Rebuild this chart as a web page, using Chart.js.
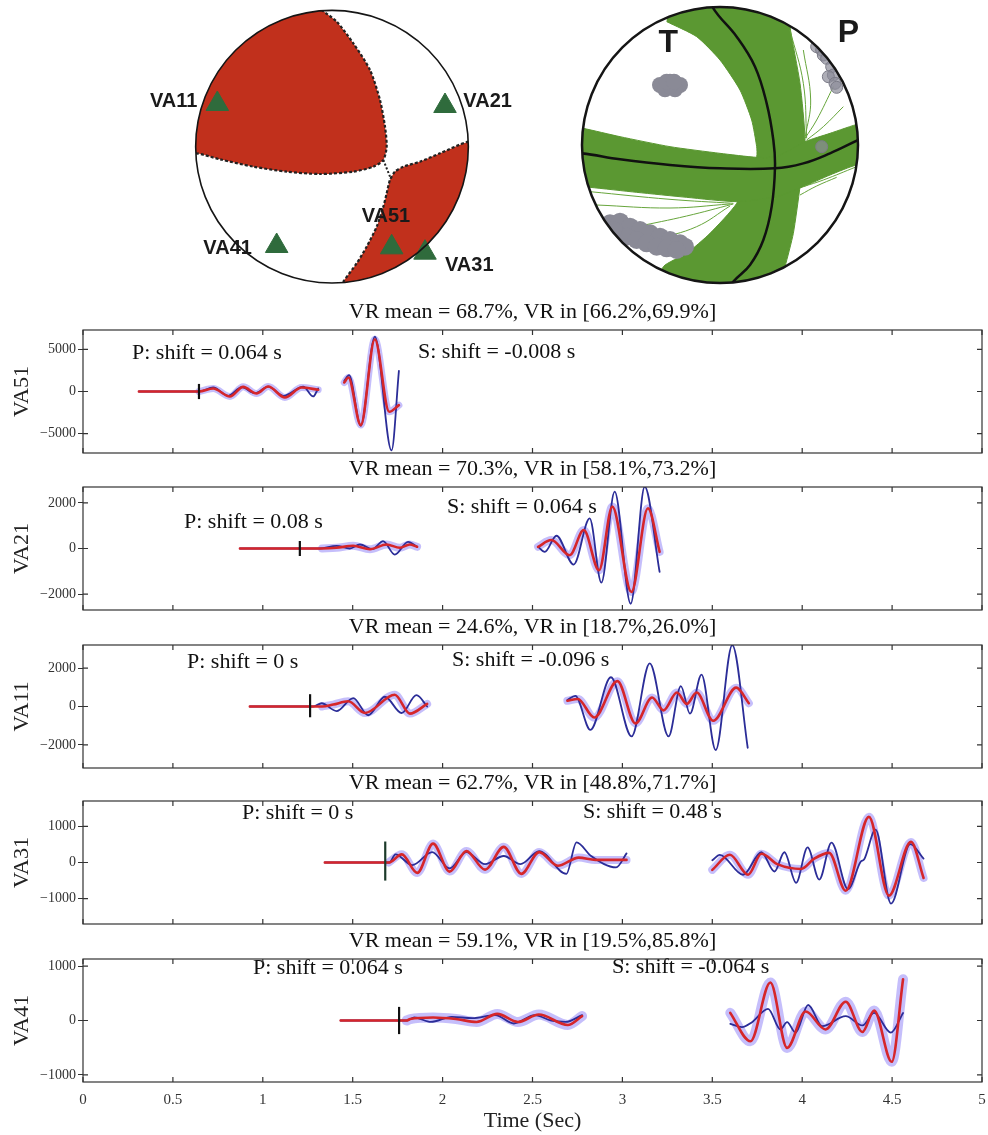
<!DOCTYPE html>
<html lang="en">
<head>
<meta charset="UTF-8">
<title>Focal mechanism and waveform fits</title>
<script src="https://cdn.jsdelivr.net/npm/chart.js"></script>
<style>
    body { margin: 0; background: #fff; }
    #page { position: relative; width: 988px; height: 1135px; overflow: hidden; background: #fff; }
    canvas { position: absolute; }
</style>
</head>
<body>
<div id="page">
    <canvas id="ballLeft" width="400" height="290" style="left:120px;top:0;width:400px;height:290px"></canvas>
    <canvas id="ballRight" width="300" height="290" style="left:570px;top:0;width:300px;height:290px"></canvas>
</div>
<script>
const SERIF = '"Liberation Serif", "Times New Roman", serif';
const SANS = '"Liberation Sans", Arial, sans-serif';

// ---------- waveform panels ----------
const stations = ['VA51', 'VA21', 'VA11', 'VA31', 'VA41'];
const vrTitles = [
    'VR mean = 68.7%, VR in [66.2%,69.9%]',
    'VR mean = 70.3%, VR in [58.1%,73.2%]',
    'VR mean = 24.6%, VR in [18.7%,26.0%]',
    'VR mean = 62.7%, VR in [48.8%,71.7%]',
    'VR mean = 59.1%, VR in [19.5%,85.8%]'
];
const pShiftText = ['P: shift = 0.064 s', 'P: shift = 0.08 s', 'P: shift = 0 s', 'P: shift = 0 s', 'P: shift = 0.064 s'];
const sShiftText = ['S: shift = -0.008 s', 'S: shift = 0.064 s', 'S: shift = -0.096 s', 'S: shift = 0.48 s', 'S: shift = -0.064 s'];
const yRange = [7300, 2700, 3200, 1700, 1130];
const yTicks = [[-5000, 0, 5000], [-2000, 0, 2000], [-2000, 0, 2000], [-1000, 0, 1000], [-1000, 0, 1000]];
const xTicks = [0, 0.5, 1, 1.5, 2, 2.5, 3, 3.5, 4, 4.5, 5];

// P pick marker: time and vertical extent
const markerTime = [0.645, 1.206, 1.263, 1.681, 1.758];
const markerLow = [-900, -330, -560, -500, -250];
const markerHigh = [900, 330, 640, 580, 250];

// [time (s), amplitude] read at the turning points of each trace
const va51PObs = [[0.311, 0], [0.645, 0], [0.724, 475], [0.808, -510], [0.882, 510], [0.956, -200], [1.03, 590], [1.114, -510], [1.225, 590], [1.28, -590], [1.308, 355]];
const va51PSyn = [[0.311, 0], [0.645, 0], [0.724, 355], [0.817, -590], [0.891, 550], [0.965, -240], [1.03, 590], [1.123, -710], [1.216, 475], [1.308, 200]];
const va51SObs = [[1.453, 1265], [1.48, 1935], [1.545, -4070], [1.623, 6520], [1.716, -7000], [1.757, 2450]];
const va51SSyn = [[1.453, 1070], [1.476, 1660], [1.545, -3990], [1.623, 6200], [1.703, -2410], [1.757, -1620]];

const va21PObs = [[0.873, 0], [1.317, 0], [1.41, 118], [1.484, 0], [1.54, 176], [1.61, -30], [1.669, 320], [1.734, -265], [1.808, 295], [1.858, 75]];
const va21PSyn = [[0.873, 0], [1.33, 0], [1.41, 30], [1.503, 118], [1.596, -30], [1.688, 176], [1.762, 30], [1.817, 176], [1.858, 75]];
const va21SObs = [[2.531, 75], [2.568, -147], [2.633, 560], [2.729, -705], [2.818, 1320], [2.883, -1500], [2.957, 2500], [3.046, -2425], [3.124, 2720], [3.207, -1030]];
const va21SSyn = [[2.531, 75], [2.605, 370], [2.707, -295], [2.785, 810], [2.87, -955], [2.944, 1840], [3.05, -1910], [3.142, 1765], [3.207, -147]];

const va11PObs = [[0.928, 0], [1.28, 0], [1.327, 170], [1.41, -237], [1.503, 440], [1.586, -455], [1.679, 507], [1.772, -338], [1.855, 590], [1.914, 0]];
const va11PSyn = [[0.928, 0], [1.33, 0], [1.392, 100], [1.475, 270], [1.568, -338], [1.734, 610], [1.818, -370], [1.914, 135]];
const va11SObs = [[2.694, 338], [2.738, 558], [2.822, -1217], [2.936, 1521], [3.051, -1555], [3.152, 2248], [3.257, -1555], [3.325, 1065], [3.376, -372], [3.44, 1656], [3.519, -2265], [3.611, 3200], [3.697, -2146]];
const va11SSyn = [[2.694, 300], [2.752, 390], [2.844, -575], [2.972, 1320], [3.073, -880], [3.165, 470], [3.229, -200], [3.303, 725], [3.358, 135], [3.413, 725], [3.505, -745], [3.633, 980], [3.703, 170]];

const va31PObs = [[1.345, 0], [1.704, 0], [1.738, 225], [1.831, -72], [1.942, 288], [2.039, -162], [2.132, 288], [2.236, -45], [2.34, 180], [2.433, -45], [2.537, 315], [2.688, -315], [2.745, 558], [2.826, 180], [2.965, -135], [3.023, 252]];
const va31PSyn = [[1.345, 0], [1.70, 0], [1.773, 225], [1.859, -288], [1.947, 522], [2.039, -252], [2.132, 315], [2.236, -198], [2.34, 432], [2.438, -315], [2.537, 288], [2.641, -90], [2.757, 135], [2.85, 72], [3.023, 72]];
const va31SObs = [[3.5, 62], [3.542, 213], [3.671, -338], [3.773, 284], [3.846, -249], [3.901, 284], [3.966, -560], [4.03, 418], [4.095, -471], [4.163, 551], [4.255, -738], [4.325, 18], [4.345, 90], [4.408, 907], [4.494, -1138], [4.601, 507], [4.675, 107]];
const va31SSyn = [[3.5, -204], [3.598, 213], [3.699, -338], [3.773, 240], [3.865, -53], [3.994, -178], [4.067, 107], [4.15, 267], [4.242, -782], [4.371, 1262], [4.482, -916], [4.605, 569], [4.675, -427]];

const va41PObs = [[1.433, 0], [1.80, 0], [1.843, 55], [1.935, -27], [2.051, 66], [2.166, 44], [2.293, 99], [2.396, -55], [2.512, 99], [2.604, 0], [2.684, -27], [2.776, 99]];
const va41PSyn = [[1.433, 0], [1.80, 0], [1.82, 27], [1.947, 55], [2.074, 27], [2.189, -27], [2.304, 121], [2.419, -27], [2.535, 110], [2.696, -82], [2.776, 82]];
const va41SObs = [[3.6, -61], [3.665, -121], [3.721, -30], [3.81, 212], [3.879, -164], [3.916, -30], [3.963, -224], [4.033, 285], [4.112, -103], [4.242, 79], [4.335, -91], [4.4, 139], [4.493, -224], [4.561, 139]];
const va41SSyn = [[3.6, 140], [3.712, -382], [3.823, 697], [3.916, -503], [4.019, 164], [4.13, -164], [4.242, 345], [4.335, -212], [4.4, 182], [4.498, -758], [4.561, 758]];

const obsP = [va51PObs, va21PObs, va11PObs, va31PObs, va41PObs];
const synP = [va51PSyn, va21PSyn, va11PSyn, va31PSyn, va41PSyn];
const obsS = [va51SObs, va21SObs, va11SObs, va31SObs, va41SObs];
const synS = [va51SSyn, va21SSyn, va11SSyn, va31SSyn, va41SSyn];

// layout of the panels (pixels)
const panelTop = [330, 487, 645, 801, 959];
const PLOT_H = 123, HEAD_H = 28, AXIS_W = 83, FOOT_H = 52;
const textPosP = [[49, 23], [101, 35], [104, 17], [159, 12], [170, 9]];
const textPosS = [[335, 22], [364, 20], [369, 15], [500, 11], [529, 8]];
const bandWidth = [7, 8, 8, 8, 10];
const markerColor = ['#111', '#111', '#111', '#1c3a2a', '#111'];

const OBS = '#2b2d98';
const SYN = '#d6262a';
const BAND = 'rgba(150, 136, 248, 0.55)';

function xy(arr) {
    return arr.map(p => ({ x: p[0], y: p[1] }));
}

function trace(arr, color, width) {
    return {
        data: xy(arr),
        borderColor: color,
        borderWidth: width,
        pointRadius: 0,
        cubicInterpolationMode: 'monotone',
        fill: false,
        borderCapStyle: 'round',
        borderJoinStyle: 'round'
    };
}

function panelDecor(i) {
    return {
        id: 'panelDecor',
        beforeDatasetsDraw(chart) {
            const { ctx, chartArea: a } = chart;
            ctx.save();
            ctx.fillStyle = '#111';
            ctx.font = '22px ' + SERIF;
            ctx.textBaseline = 'middle';
            ctx.textAlign = 'center';
            ctx.fillText(vrTitles[i], (a.left + a.right) / 2, a.top - 18);
            ctx.textAlign = 'left';
            ctx.fillText(pShiftText[i], a.left + textPosP[i][0], a.top + textPosP[i][1]);
            ctx.fillText(sShiftText[i], a.left + textPosS[i][0], a.top + textPosS[i][1]);
            ctx.restore();
        },
        afterDraw(chart) {
            const { ctx, chartArea: a, scales: { x, y } } = chart;
            ctx.save();
            ctx.strokeStyle = '#333';
            ctx.lineWidth = 1.2;
            ctx.strokeRect(a.left, a.top, a.right - a.left, a.bottom - a.top);
            ctx.beginPath();
            xTicks.forEach(v => {
                const px = x.getPixelForValue(v);
                ctx.moveTo(px, a.top); ctx.lineTo(px, a.top + 5);
                ctx.moveTo(px, a.bottom); ctx.lineTo(px, a.bottom - 5);
            });
            yTicks[i].forEach(v => {
                const py = y.getPixelForValue(v);
                ctx.moveTo(a.left, py); ctx.lineTo(a.left + 5, py);
                ctx.moveTo(a.right, py); ctx.lineTo(a.right - 5, py);
            });
            ctx.stroke();
            ctx.restore();
        }
    };
}

const page = document.getElementById('page');

stations.forEach((name, i) => {
    const last = i === stations.length - 1;
    const h = HEAD_H + PLOT_H + (last ? FOOT_H : 4);
    const c = document.createElement('canvas');
    c.width = 988; c.height = h;
    c.style.left = '0px';
    c.style.top = (panelTop[i] - HEAD_H) + 'px';
    c.style.width = '988px';
    c.style.height = h + 'px';
    page.appendChild(c);

    const marker = {
        data: [{ x: markerTime[i], y: markerLow[i] }, { x: markerTime[i], y: markerHigh[i] }],
        borderColor: markerColor[i], borderWidth: 2.2, pointRadius: 0, tension: 0, fill: false
    };
    const bandP = trace(synP[i].slice(1), BAND, bandWidth[i]);
    const bandS = trace(synS[i], BAND, bandWidth[i]);

    new Chart(c, {
        type: 'line',
        data: {
            datasets: [
                marker,
                trace(synP[i], SYN, 2.6),
                trace(synS[i], SYN, 2.6),
                trace(obsP[i], OBS, 1.8),
                trace(obsS[i], OBS, 1.8),
                bandP,
                bandS
            ]
        },
        options: {
            responsive: false,
            animation: false,
            events: [],
            layout: { autoPadding: false, padding: { top: HEAD_H, right: 6, bottom: last ? 0 : 4, left: 0 } },
            plugins: { legend: { display: false }, tooltip: { enabled: false } },
            scales: {
                x: {
                    type: 'linear', min: 0, max: 5,
                    display: last,
                    afterBuildTicks: s => { s.ticks = xTicks.map(v => ({ value: v })); },
                    afterFit: s => {
                        s.height = last ? FOOT_H : 0;
                        s.paddingLeft = 0;
                        s.paddingRight = 0;
                    },
                    grid: { display: false, drawTicks: false },
                    border: { display: false },
                    ticks: {
                        font: { family: SERIF, size: 15 }, color: '#333', padding: 9,
                        maxRotation: 0, autoSkip: false,
                        callback: v => String(v)
                    },
                    title: {
                        display: true, text: 'Time (Sec)',
                        font: { family: SERIF, size: 22 }, color: '#222',
                        padding: { top: 0, bottom: 0 }
                    }
                },
                y: {
                    type: 'linear', min: -yRange[i], max: yRange[i],
                    afterBuildTicks: s => { s.ticks = yTicks[i].map(v => ({ value: v })); },
                    afterFit: s => {
                        s.width = AXIS_W;
                        s.paddingTop = 0;
                        s.paddingBottom = 0;
                    },
                    grid: { drawOnChartArea: false, tickLength: 5, color: '#333' },
                    border: { display: false },
                    ticks: {
                        font: { family: SERIF, size: 14 }, color: '#333', padding: 2,
                        callback: v => v < 0 ? '\u2212' + (-v) : String(v)
                    },
                    title: {
                        display: true, text: name,
                        font: { family: SERIF, size: 22 }, color: '#222',
                        padding: { top: 9, bottom: 0 }
                    }
                }
            }
        },
        plugins: [panelDecor(i)]
    });
});

// ---------- beach balls (coordinates in picture units, y down) ----------
// left: polarity solution with stations
const ballLCenter = [636, 440];
const ballLRadius = 409;
const compA = [[590, -40], [150, -40], [150, 460], [230, 460], [300, 478], [400, 500], [500, 515], [600, 522], [700, 515], [760, 500], [790, 480], [800, 440], [795, 380], [780, 300], [750, 210], [700, 130], [650, 65], [605, 30]];
const compB = [[1150, 415], [1045, 425], [960, 460], [900, 485], [850, 500], [825, 515], [810, 540], [800, 580], [790, 620], [770, 680], [740, 740], [710, 790], [670, 845], [640, 900], [1150, 900]];
const compLink = [[790, 480], [800, 505], [812, 535]];
const stationNames = ['VA11', 'VA21', 'VA51', 'VA41', 'VA31'];
const stationX = [292, 975, 815, 470, 915];
const stationY = [312, 318, 742, 738, 758];
const stationLabelX = [232, 1030, 725, 250, 975];
const stationLabelY = [305, 305, 650, 745, 795];
const stationLabelAlign = ['right', 'left', 'left', 'left', 'left'];

// right: nodal planes with uncertainty, T and P axes
const ballRCenter = [450, 435];
const ballRRadius = 414;
const nodal1 = [[425, -10], [430, 25], [500, 110], [555, 200], [590, 310], [610, 420], [615, 500], [605, 620], [580, 720], [540, 795], [490, 845], [470, 880]];
const nodal2 = [[-10, 460], [35, 460], [150, 478], [300, 495], [450, 505], [615, 505], [700, 490], [780, 460], [865, 420], [900, 405]];
const band1 = [[290, 20], [660, 20], [660, 80], [690, 250], [705, 420], [690, 560], [670, 700], [645, 800], [620, 880], [260, 880], [280, 800], [350, 760], [420, 700], [500, 610], [560, 470], [560, 440], [545, 360], [510, 270], [450, 180], [380, 110], [290, 65]];
const band2 = [[-20, 375], [40, 385], [150, 410], [300, 440], [450, 460], [560, 472], [620, 470], [705, 425], [780, 400], [870, 370], [920, 360], [920, 495], [860, 495], [780, 525], [700, 560], [620, 590], [500, 605], [350, 592], [200, 577], [60, 562], [-20, 555]];
const strayPlanes = [
    [[60, 575], [300, 598], [490, 610]],
    [[80, 615], [300, 624], [480, 612]],
    [[200, 680], [350, 648], [490, 612]],
    [[250, 720], [380, 680], [480, 618]],
    [[660, 90], [700, 250], [710, 415]],
    [[700, 150], [722, 300], [706, 410]],
    [[790, 260], [740, 360], [705, 415]],
    [[820, 320], [760, 380], [710, 420]],
    [[700, 560], [760, 540], [860, 500]],
    [[690, 585], [740, 558], [800, 532]]
];
const tAxes = [[270, 255], [300, 245], [330, 255], [285, 268], [315, 268], [300, 258], [290, 245], [312, 245]];
const pAxesUp = [[740, 140], [755, 150], [760, 165], [770, 175], [785, 200], [790, 225], [775, 230], [795, 250], [800, 262], [755, 440]];
const pAxesLow = [[120, 670], [150, 665], [180, 680], [210, 690], [240, 700], [270, 710], [300, 720], [330, 730], [345, 740], [140, 700], [170, 710], [200, 720], [230, 730], [260, 740], [290, 745], [320, 750], [130, 690]];

function ballPlugin(center, radius, outlineWidth, unclipped, labels) {
    let clipped = false;
    const circle = chart => {
        const { x, y } = chart.scales;
        const cx = x.getPixelForValue(center[0]);
        const cy = y.getPixelForValue(center[1]);
        const r = x.getPixelForValue(center[0] + radius) - cx;
        chart.ctx.beginPath();
        chart.ctx.arc(cx, cy, r, 0, Math.PI * 2);
    };
    return {
        id: 'ball',
        beforeDraw(chart) {
            chart.ctx.save();
            circle(chart);
            chart.ctx.clip();
            clipped = true;
        },
        afterDatasetDraw(chart, args) {
            if (clipped && args.index === unclipped) { chart.ctx.restore(); clipped = false; }
        },
        afterDatasetsDraw(chart) {
            if (clipped) { chart.ctx.restore(); clipped = false; }
        },
        afterDraw(chart) {
            const { ctx, scales: { x, y } } = chart;
            ctx.save();
            circle(chart);
            ctx.lineWidth = outlineWidth;
            ctx.strokeStyle = '#151515';
            ctx.stroke();
            labels.forEach(l => {
                ctx.font = l.font;
                ctx.fillStyle = '#1a1a1a';
                ctx.textAlign = l.align;
                ctx.textBaseline = 'middle';
                ctx.fillText(l.text, x.getPixelForValue(l.at[0]), y.getPixelForValue(l.at[1]));
            });
            ctx.restore();
        }
    };
}

function ballOptions(w, h) {
    return {
        responsive: false,
        animation: false,
        events: [],
        layout: { autoPadding: false, padding: 0 },
        plugins: { legend: { display: false }, tooltip: { enabled: false } },
        scales: {
            x: { type: 'linear', min: 0, max: w, display: false },
            y: { type: 'linear', min: 0, max: h, reverse: true, display: false }
        }
    };
}

new Chart(document.getElementById('ballLeft'), {
    type: 'line',
    data: {
        datasets: [
            {
                data: stationX.map((v, k) => ({ x: v, y: stationY[k] })),
                showLine: false, pointStyle: 'triangle', pointRadius: 13,
                pointBackgroundColor: '#2f6b3c', pointBorderColor: '#2f6b3c', pointBorderWidth: 1
            },
            { data: xy(compLink), borderColor: '#222', borderWidth: 2, borderDash: [2, 2], pointRadius: 0, tension: 0, fill: false },
            { data: xy(compB), fill: 'shape', backgroundColor: '#c1301c', borderColor: '#222', borderWidth: 2.2, borderDash: [3, 2], pointRadius: 0, tension: 0.25 },
            { data: xy(compA), fill: 'shape', backgroundColor: '#c1301c', borderColor: '#222', borderWidth: 2.2, borderDash: [3, 2], pointRadius: 0, tension: 0.25 }
        ]
    },
    options: ballOptions(1200, 870),
    plugins: [ballPlugin(ballLCenter, ballLRadius, 1.6, 1, stationNames.map((s, k) => ({
        text: s, at: [stationLabelX[k], stationLabelY[k]], align: stationLabelAlign[k],
        font: 'bold 20px ' + SANS
    })))]
});

const strayDatasets = strayPlanes.map(p => ({
    data: xy(p), borderColor: '#67a53c', borderWidth: 1, pointRadius: 0, tension: 0.4, fill: false
}));

new Chart(document.getElementById('ballRight'), {
    type: 'line',
    data: {
        datasets: [
            { data: xy(nodal1), borderColor: '#111', borderWidth: 2.5, pointRadius: 0, tension: 0.4, fill: false },
            { data: xy(nodal2), borderColor: '#111', borderWidth: 2.5, pointRadius: 0, tension: 0.4, fill: false },
            { data: xy(tAxes), showLine: false, pointRadius: 8, pointBackgroundColor: '#8a8a96', pointBorderWidth: 0 },
            { data: xy(pAxesUp), showLine: false, pointRadius: 6, pointBackgroundColor: 'rgba(140,140,152,0.7)', pointBorderColor: '#7c7c88', pointBorderWidth: 1 },
            { data: xy(pAxesLow), showLine: false, pointRadius: 9, pointBackgroundColor: '#8a8a96', pointBorderWidth: 0 },
            ...strayDatasets,
            { data: xy(band2), fill: 'shape', backgroundColor: '#5b9832', borderColor: '#5b9832', borderWidth: 1, pointRadius: 0, tension: 0.2 },
            { data: xy(band1), fill: 'shape', backgroundColor: '#5b9832', borderColor: '#5b9832', borderWidth: 1, pointRadius: 0, tension: 0.2 }
        ]
    },
    options: ballOptions(900, 870),
    plugins: [ballPlugin(ballRCenter, ballRRadius, 2.5, 0, [
        { text: 'T', at: [295, 130], align: 'center', font: 'bold 32px ' + SANS },
        { text: 'P', at: [835, 100], align: 'center', font: 'bold 32px ' + SANS }
    ])]
});
</script>
</body>
</html>
